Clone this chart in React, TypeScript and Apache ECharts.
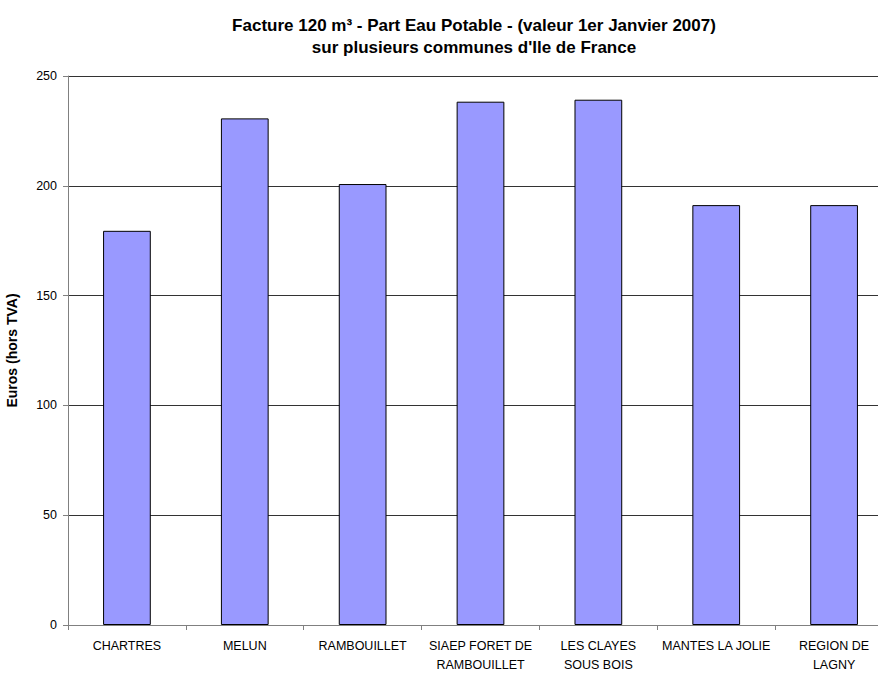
import React, { useEffect, useRef } from "react";
import * as echarts from "echarts";

const categories = [
  "CHARTRES",
  "MELUN",
  "RAMBOUILLET",
  "SIAEP FORET DE\nRAMBOUILLET",
  "LES CLAYES\nSOUS BOIS",
  "MANTES LA JOLIE",
  "REGION DE\nLAGNY",
];
const values = [179.5, 230.7, 200.8, 238.3, 239.2, 191.2, 191.2];
const titleLine1 = "Facture 120 m³ - Part Eau Potable - (valeur 1er Janvier 2007)";
const titleLine2 = "sur plusieurs communes d'Ile de France";
const yAxisName = "Euros (hors TVA)";

export default function App() {
  const ref = useRef<HTMLDivElement>(null);
  useEffect(() => {
    document.body.style.margin = "0";
    if (!ref.current) return;
    const chart = echarts.init(ref.current, undefined, { renderer: "svg" });
    chart.setOption({
      animation: false,
      backgroundColor: "#ffffff",
      title: {
        text: titleLine1 + "\n" + titleLine2,
        left: 469,
        top: 9,
        textAlign: "center",
        textStyle: {
          fontFamily: "Liberation Sans, Arial, sans-serif",
          fontWeight: "bold",
          fontSize: 17,
          lineHeight: 22,
          color: "#000",
        },
      },
      grid: {
        left: 68,
        right: -15,
        top: 76,
        bottom: 48,
        containLabel: false,
        outerBoundsMode: "none",
      },
      xAxis: {
        type: "category",
        data: categories,
        boundaryGap: true,
        axisLine: { lineStyle: { color: "#808080", width: 1 } },
        axisTick: { show: true, alignWithLabel: false, length: 5, lineStyle: { color: "#808080" } },
        axisLabel: {
          interval: 0,
          margin: 11,
          fontFamily: "Liberation Sans, Arial, sans-serif",
          fontSize: 12.5,
          lineHeight: 19,
          color: "#000",
        },
      },
      yAxis: {
        type: "value",
        min: 0,
        max: 250,
        interval: 50,
        name: yAxisName,
        nameLocation: "middle",
        nameGap: 49,
        nameTextStyle: {
          fontFamily: "Liberation Sans, Arial, sans-serif",
          fontWeight: "bold",
          fontSize: 14,
          color: "#000",
        },
        axisLine: { show: true, lineStyle: { color: "#808080", width: 1 } },
        axisTick: { show: true, length: 5, lineStyle: { color: "#808080" } },
        axisLabel: {
          margin: 11,
          fontFamily: "Liberation Sans, Arial, sans-serif",
          fontSize: 12.5,
          color: "#000",
        },
        splitLine: { show: true, lineStyle: { color: "#333", width: 1 } },
      },
      series: [
        {
          type: "bar",
          data: values,
          barWidth: "40.5%",
          itemStyle: { color: "#9999FF", borderColor: "#000", borderWidth: 1 },
        },
      ],
    });
    return () => chart.dispose();
  }, []);
  return <div ref={ref} style={{ width: 878, height: 673 }} />;
}
